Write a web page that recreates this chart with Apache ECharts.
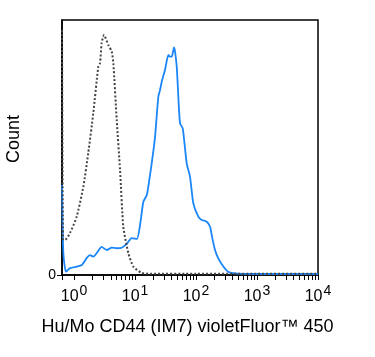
<!DOCTYPE html>
<html>
<head>
<meta charset="utf-8">
<script src="https://cdn.jsdelivr.net/npm/echarts@6/dist/echarts.min.js"></script>
<style>
html,body{margin:0;padding:0;background:#fff;}
#chart{width:375px;height:357px;}
</style>
</head>
<body>
<div id="chart"></div>
<script>
// Control (isotype, dotted) histogram: fluorescence values and counts (% of max)
const ctrlX = [0.636, 0.66, 0.711, 0.86, 1.107, 1.42, 1.71, 2.07, 2.50, 2.67, 2.84, 3.10, 3.65, 4.15, 4.41, 5.01, 5.68, 6.43, 7.77, 9.38, 12.9, 17.6, 100, 1000, 10000];
const ctrlY = [96, 14, 13.7, 16.5, 22.9, 34.6, 47.8, 63.5, 81.7, 83.1, 91.0, 94.1, 90.2, 87.6, 83.1, 60.8, 41.2, 18.9, 8.6, 3.3, 0.8, 0.5, 0.5, 0.5, 0.5];
// CD44 stained (solid blue) histogram
const cd44X = [0.636, 0.668, 0.739, 0.86, 1.107, 1.34, 1.62, 1.83, 2.07, 2.36, 2.84, 3.44, 4.15, 5.01, 6.05, 7.31, 8.83, 10.7, 12.1, 13.7, 15.6, 16.5, 18.8, 21.3, 24.1, 25.7, 27.4, 31.0, 35.2, 37.5, 40.0, 43.6, 45.3, 48.3, 51.3, 54.7, 60.6, 70.4, 79.8, 90.3, 109, 124, 150, 170, 183, 205, 232, 281, 335, 436, 767, 10000];
const cd44Y = [35.3, 8.6, 1.3, 2.7, 3.3, 3.9, 6.7, 7.8, 7.2, 8.6, 11.0, 9.8, 10.7, 10.5, 10.7, 12.2, 14.5, 14.1, 19.6, 28.7, 31.4, 34.6, 43.9, 54.2, 69.9, 72.5, 75.8, 80.4, 86.3, 85.6, 85.6, 89.3, 87.6, 81.7, 69.9, 59.5, 57.5, 43.8, 38.5, 28.1, 22.9, 21.6, 20.9, 18.9, 15.0, 9.8, 6.5, 3.3, 1.3, 0.6, 0.4, 0.4];
// Decade exponents for x tick labels
const xExponents = [0, 1, 2, 3, 4];
const xAxisTitle = 'Hu/Mo CD44 (IM7) violetFluor™ 450';
const yAxisTitle = 'Count';

const xMin = Math.log10(0.635), xMax = 4;
const toPts = (xs, ys) => xs.map((v, i) => [Math.log10(v), ys[i]]);
const minorTicks = [xMin];
for (let d = 0; d < 4; d++) for (let m = 1; m <= 9; m++) minorTicks.push(d + Math.log10(m));
minorTicks.push(4);

const chart = echarts.init(document.getElementById('chart'), null, {renderer: 'canvas'});
chart.setOption({
  animation: false,
  backgroundColor: '#fff',
  grid: {left: 62, right: 57, top: 20, bottom: 82, show: true, borderColor: '#000', borderWidth: 1.5, backgroundColor: 'transparent'},
  xAxis: {
    type: 'value', min: xMin, max: xMax,
    axisLine: {show: true, onZero: false, lineStyle: {color: '#000', width: 1.5}},
    axisTick: {show: true, customValues: minorTicks, length: 5, lineStyle: {color: '#000', width: 1}},
    axisLabel: {
      customValues: xExponents, margin: 9,
      formatter: v => '{b|10}{s|' + v + '}',
      rich: {
        b: {fontFamily: 'Liberation Sans', fontSize: 16, color: '#000'},
        s: {fontFamily: 'Liberation Sans', fontSize: 14, color: '#000', padding: [0, 0, 12, 1]}
      }
    },
    splitLine: {show: false}
  },
  yAxis: {
    type: 'value', min: 0, max: 100,
    axisLine: {show: true, onZero: false, lineStyle: {color: '#000', width: 1.5}},
    axisTick: {show: true, customValues: [0], length: 5, lineStyle: {color: '#000'}},
    axisLabel: {customValues: [0], fontFamily: 'Liberation Sans', fontSize: 14, color: '#000', margin: 6},
    splitLine: {show: false}
  },
  graphic: [
    {type: 'text', left: 'center', top: 318, style: {text: xAxisTitle, font: '18px "Liberation Sans"', fill: '#000'}},
    {type: 'text', x: 5, y: 139, rotation: Math.PI / 2, style: {text: yAxisTitle, font: '18px "Liberation Sans"', fill: '#000', align: 'center', verticalAlign: 'top'}}
  ],
  series: [
    {type: 'line', data: toPts(cd44X, cd44Y), showSymbol: false, smooth: 0.2, lineStyle: {color: '#1a86f7', width: 1.8}, z: 2},
    {type: 'line', data: toPts(ctrlX, ctrlY), showSymbol: false, smooth: 0.2, lineStyle: {color: '#444', width: 2, type: [2, 2]}, z: 3}
  ]
});
</script>
</body>
</html>
